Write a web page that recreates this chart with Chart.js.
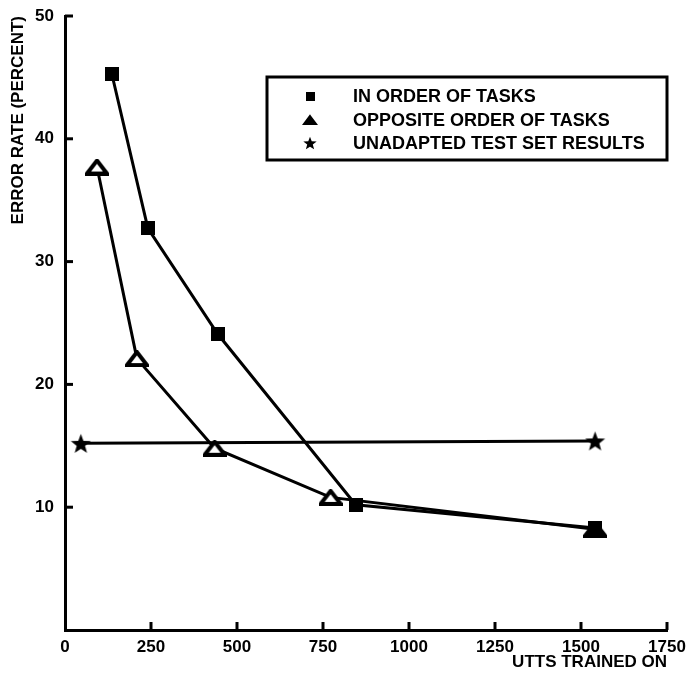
<!DOCTYPE html>
<html>
<head>
<meta charset="utf-8">
<script src="https://cdn.jsdelivr.net/npm/chart.js@4"></script>
<style>
  html, body { margin: 0; padding: 0; background: #fff; }
  #wrap { width: 689px; height: 675px; }
</style>
</head>
<body>
<div id="wrap"><canvas id="chart" width="689" height="675"></canvas></div>
<script>
const inOrderX = [136, 241, 444, 845, 1541];
const inOrderY = [45.3, 32.7, 24.1, 10.2, 8.3];
const oppositeX = [93, 209, 435, 772, 1541];
const oppositeY = [37.7, 22.1, 14.8, 10.8, 8.2];
const unadaptedX = [46, 1541];
const unadaptedY = [15.2, 15.4];
const xTicks = [0, 250, 500, 750, 1000, 1250, 1500, 1750];
const yTicks = [10, 20, 30, 40, 50];
const seriesNames = ['IN ORDER OF TASKS', 'OPPOSITE ORDER OF TASKS', 'UNADAPTED TEST SET RESULTS'];

function toPoints(xs, ys) {
    return xs.map((x, i) => ({ x: x, y: ys[i] }));
}

// marker images
function makeStar(size) {
    const c = document.createElement('canvas');
    c.width = size; c.height = size;
    const g = c.getContext('2d');
    const cx = size / 2, cy = size / 2 + size * 0.05;
    const ro = size / 2, ri = ro * 0.42;
    g.beginPath();
    for (let i = 0; i < 10; i++) {
        const r = i % 2 === 0 ? ro : ri;
        const a = -Math.PI / 2 + i * Math.PI / 5;
        g.lineTo(cx + r * Math.cos(a), cy + r * Math.sin(a));
    }
    g.closePath();
    g.fillStyle = '#000';
    g.fill();
    return c;
}

function makeTriangle(w, h, filled) {
    const c = document.createElement('canvas');
    c.width = w; c.height = h;
    const g = c.getContext('2d');
    g.beginPath();
    g.moveTo(w / 2, 2);
    g.lineTo(w - 2, h - 2);
    g.lineTo(2, h - 2);
    g.closePath();
    g.lineJoin = 'miter';
    g.lineWidth = filled ? 2 : 4;
    g.strokeStyle = '#000';
    g.fillStyle = filled ? '#000' : '#fff';
    g.fill();
    g.stroke();
    return c;
}

function makeSquare(s) {
    const c = document.createElement('canvas');
    c.width = s; c.height = s;
    const g = c.getContext('2d');
    g.fillStyle = '#000';
    g.fillRect(0, 0, s, s);
    return c;
}

const squareImg = makeSquare(14);
const triImg = makeTriangle(24, 17, false);
const starImg = makeStar(21);
const legendImgs = [makeSquare(9), makeTriangle(16, 12, true), makeStar(14)];

const FONT = 'Liberation Sans, Arial, sans-serif';

// short tick marks pointing into the plot
const innerTicks = {
    id: 'innerTicks',
    afterDraw(chart) {
        const ctx = chart.ctx;
        const xs = chart.scales.x, ys = chart.scales.y;
        const area = chart.chartArea;
        ctx.save();
        ctx.strokeStyle = '#000';
        ctx.lineWidth = 3;
        yTicks.forEach(v => {
            const py = ys.getPixelForValue(v);
            ctx.beginPath();
            ctx.moveTo(area.left, py);
            ctx.lineTo(area.left + 8, py);
            ctx.stroke();
        });
        xTicks.slice(1).forEach(v => {
            const px = xs.getPixelForValue(v);
            ctx.beginPath();
            ctx.moveTo(px, area.bottom);
            ctx.lineTo(px, area.bottom - 8);
            ctx.stroke();
        });
        ctx.restore();
    }
};

// boxed legend inside the plot
const boxLegend = {
    id: 'boxLegend',
    afterDraw(chart) {
        const ctx = chart.ctx;
        const left = 267, top = 77, right = 667, bottom = 160;
        ctx.save();
        ctx.fillStyle = '#fff';
        ctx.fillRect(left, top, right - left, bottom - top);
        ctx.strokeStyle = '#000';
        ctx.lineWidth = 3;
        ctx.strokeRect(left, top, right - left, bottom - top);
        ctx.font = 'bold 18px ' + FONT;
        ctx.fillStyle = '#000';
        ctx.textBaseline = 'middle';
        const rows = [96, 120, 143];
        chart.data.datasets.forEach((ds, i) => {
            const img = legendImgs[i];
            ctx.drawImage(img, 310 - img.width / 2, rows[i] - img.height / 2);
            ctx.fillText(ds.label, 353, rows[i] + 1);
        });
        ctx.restore();
    }
};

const lineStyle = {
    showLine: true,
    borderColor: '#000',
    borderWidth: 3,
    pointRadius: 10,
    pointHoverRadius: 10,
    tension: 0
};

new Chart(document.getElementById('chart').getContext('2d'), {
    type: 'scatter',
    data: {
        datasets: [
            Object.assign({
                label: seriesNames[0],
                data: toPoints(inOrderX, inOrderY),
                pointStyle: squareImg
            }, lineStyle),
            Object.assign({
                label: seriesNames[1],
                data: toPoints(oppositeX, oppositeY),
                pointStyle: triImg
            }, lineStyle),
            Object.assign({
                label: seriesNames[2],
                data: toPoints(unadaptedX, unadaptedY),
                pointStyle: starImg
            }, lineStyle)
        ]
    },
    options: {
        responsive: false,
        animation: false,
        layout: { padding: { top: 16, right: 22, left: 0, bottom: 0 } },
        plugins: {
            legend: { display: false },
            tooltip: { enabled: false }
        },
        scales: {
            x: {
                type: 'linear',
                min: 0,
                max: 1750,
                afterFit: s => { s.height = 45; s.paddingLeft = 0; s.paddingRight = 0; },
                afterBuildTicks: s => { s.ticks = xTicks.map(v => ({ value: v })); },
                grid: { display: false, drawTicks: false },
                border: { display: true, color: '#000', width: 3 },
                ticks: {
                    color: '#000',
                    padding: 7,
                    maxRotation: 0,
                    autoSkip: false,
                    font: { family: FONT, size: 17, weight: 'bold' },
                    callback: v => String(v)
                },
                title: {
                    display: true,
                    text: 'UTTS TRAINED ON',
                    align: 'end',
                    color: '#000',
                    padding: { top: 0, bottom: 2 },
                    font: { family: FONT, size: 17, weight: 'bold' }
                }
            },
            y: {
                type: 'linear',
                min: 0,
                max: 50,
                afterFit: s => { s.width = 65; s.paddingTop = 0; s.paddingBottom = 0; },
                afterBuildTicks: s => { s.ticks = [0].concat(yTicks).map(v => ({ value: v })); },
                grid: { display: false, drawTicks: false },
                border: { display: true, color: '#000', width: 3 },
                ticks: {
                    color: '#000',
                    padding: 11,
                    autoSkip: false,
                    font: { family: FONT, size: 17, weight: 'bold' },
                    callback: v => (v === 0 ? '' : String(v))
                },
                title: {
                    display: true,
                    text: 'ERROR RATE (PERCENT)',
                    align: 'end',
                    color: '#000',
                    padding: { top: 8, bottom: 0 },
                    font: { family: FONT, size: 17, weight: 'bold' }
                }
            }
        }
    },
    plugins: [innerTicks, boxLegend]
});
</script>
</body>
</html>
